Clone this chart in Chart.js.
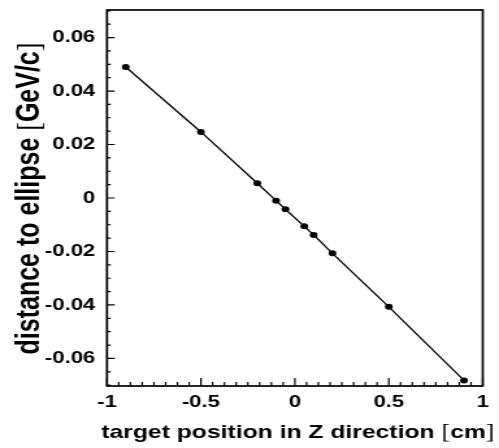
<!DOCTYPE html>
<html>
<head>
<meta charset="utf-8">
<script src="https://cdn.jsdelivr.net/npm/chart.js@4.4.1/dist/chart.umd.min.js"></script>
<style>
  html, body { margin: 0; padding: 0; background: #fff; overflow: hidden; }
  /* the reference is a bit wider than tall in its glyphs, so stretch the canvas sideways */
  #wrap { width: 384px; height: 448px; transform: scaleX(1.2995); transform-origin: 0 0; }
</style>
</head>
<body>
<div id="wrap"><canvas id="zChart" width="384" height="448"></canvas></div>
<script>
// target position (cm) and distance to ellipse (GeV/c)
const zPositions = [-0.9, -0.5, -0.2, -0.1, -0.05, 0.05, 0.1, 0.2, 0.5, 0.9];
const ellipseDistances = [0.0490, 0.0247, 0.0055, -0.0010, -0.0042, -0.0106, -0.0138, -0.0207, -0.0407, -0.0682];

const xTickValues = [-1, -0.5, 0, 0.5, 1];
const yTickValues = [-0.06, -0.04, -0.02, 0, 0.02, 0.04, 0.06];
const xMinorStep = 0.0625;
const yMinorStep = 0.005;

const xTitleParts = [['target position in Z direction ', 'b'], ['[', 'n'], ['cm', 'b'], [']', 'n']];
const yTitleParts = [['distance to ellipse ', 'b'], ['[', 'n'], ['GeV/c', 'b'], [']', 'n']];

const boldFont = (size) => 'bold ' + size + 'px "Liberation Sans", Arial, sans-serif';
const thinFont = (size) => 'normal ' + (size + 1) + 'px "Liberation Serif", serif';

// widths of the pieces of a title (bold text, thin brackets like ROOT's #[])
function partWidths(ctx, parts, size) {
  return parts.map(([txt, kind]) => {
    ctx.font = kind === 'b' ? boldFont(size) : thinFont(size);
    return ctx.measureText(txt).width;
  });
}

const rootFrame = {
  id: 'rootFrame',
  afterDraw(chart) {
    const { ctx, chartArea: a, scales: { x, y } } = chart;
    ctx.save();
    ctx.strokeStyle = '#000';

    // ticks inside the frame
    ctx.lineWidth = 1.2;
    ctx.beginPath();
    for (let v = x.min; v <= x.max + 1e-9; v += xMinorStep) {
      const px = x.getPixelForValue(v);
      const major = xTickValues.some(t => Math.abs(t - v) < 1e-6);
      ctx.moveTo(px, a.bottom);
      ctx.lineTo(px, a.bottom - (major ? 8 : 4));
    }
    const yStart = Math.ceil(y.min / yMinorStep) * yMinorStep;
    for (let v = yStart; v <= y.max + 1e-9; v += yMinorStep) {
      const py = y.getPixelForValue(v);
      const major = yTickValues.some(t => Math.abs(t - v) < 1e-6);
      ctx.moveTo(a.left, py);
      ctx.lineTo(a.left + (major ? 6 : 2.9), py);
    }
    ctx.stroke();

    // frame
    ctx.lineWidth = 1.7;
    ctx.strokeRect(a.left, a.top, a.right - a.left, a.bottom - a.top);

    // x title, right aligned
    ctx.fillStyle = '#000';
    ctx.textBaseline = 'alphabetic';
    ctx.textAlign = 'left';
    let w = partWidths(ctx, xTitleParts, 19);
    let cx = 380.5 - w.reduce((s, v) => s + v, 0);
    xTitleParts.forEach(([txt, kind], i) => {
      ctx.font = kind === 'b' ? boldFont(19) : thinFont(19);
      ctx.fillText(txt, cx, 438);
      cx += w[i];
    });

    // y title, rotated and centred on the frame
    w = partWidths(ctx, yTitleParts, 25);
    const total = w.reduce((s, v) => s + v, 0);
    ctx.translate(29.5, (a.top + a.bottom) / 2 + 0.5);
    ctx.rotate(-Math.PI / 2);
    let cy = -total / 2;
    yTitleParts.forEach(([txt, kind], i) => {
      ctx.font = kind === 'b' ? boldFont(25) : thinFont(25);
      ctx.fillText(txt, cy, 0);
      cy += w[i];
    });
    ctx.restore();
  }
};

const tickFont = { family: '"Liberation Sans", Arial, sans-serif', weight: 'bold', size: 17 };

new Chart(document.getElementById('zChart'), {
  type: 'scatter',
  data: {
    datasets: [{
      data: zPositions.map((z, i) => ({ x: z, y: ellipseDistances[i] })),
      showLine: true,
      borderColor: '#000',
      borderWidth: 1.3,
      pointRadius: 3,
      pointBackgroundColor: '#000',
      pointBorderWidth: 0
    }]
  },
  options: {
    responsive: false,
    animation: false,
    layout: { padding: { top: 10, right: 12.5, left: 0, bottom: 0 } },
    plugins: { legend: { display: false }, tooltip: { enabled: false } },
    scales: {
      x: {
        type: 'linear',
        min: -1,
        max: 1,
        grid: { display: false, drawTicks: false },
        border: { display: false },
        afterBuildTicks: s => { s.ticks = xTickValues.map(v => ({ value: v })); },
        afterFit: s => { s.height = 62; s.paddingLeft = 0; s.paddingRight = 0; },
        ticks: {
          color: '#000',
          font: tickFont,
          padding: 6,
          maxRotation: 0,
          autoSkip: false,
          callback: v => String(v)
        }
      },
      y: {
        type: 'linear',
        min: -0.0703,
        max: 0.0703,
        grid: { display: false, drawTicks: false },
        border: { display: false },
        afterBuildTicks: s => { s.ticks = yTickValues.map(v => ({ value: v })); },
        afterFit: s => { s.width = 82.3; s.paddingTop = 0; s.paddingBottom = 0; },
        ticks: {
          color: '#000',
          font: tickFont,
          padding: 9,
          autoSkip: false,
          callback: v => Math.abs(v) < 1e-9 ? '0' : v.toFixed(2)
        }
      }
    }
  },
  plugins: [rootFrame]
});
</script>
</body>
</html>
